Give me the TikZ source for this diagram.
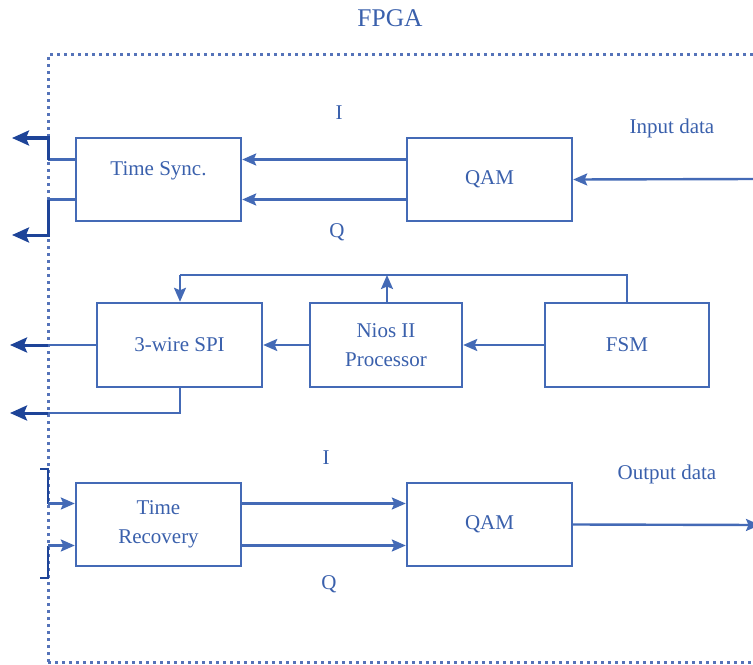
\documentclass[tikz,border=0pt]{standalone}
\usepackage{fontspec}
\setmainfont{Liberation Serif}
\usetikzlibrary{arrows.meta}
\definecolor{boxblue}{RGB}{68,106,182}
\definecolor{txtblue}{RGB}{58,96,172}
\definecolor{dotblue}{RGB}{85,115,185}
\definecolor{navyblue}{RGB}{30,68,152}
\newcommand{\lblfont}{\fontsize{21bp}{29bp}\selectfont}
\newcommand{\ttlfont}{\fontsize{25.5bp}{30bp}\selectfont}
\begin{document}
\begin{tikzpicture}[x=1bp,y=-1bp,
  blk/.style={draw=boxblue, line width=2.4bp, minimum width=165bp, minimum height=83bp,
              inner sep=0pt, text=txtblue, font=\lblfont, align=center},
  lbl/.style={text=txtblue, font=\lblfont, inner sep=0pt, anchor=base},
  conn/.style={draw=boxblue, line width=2.4bp},
  arr/.style={conn, -{Stealth[length=14bp,width=12bp,inset=2.5bp]}},
  outarr/.style={draw=navyblue, line width=3bp, -{Stealth[length=17bp,width=15bp,inset=3bp]}},
  inln/.style={draw=navyblue, line width=2.6bp},
  frame/.style={draw=dotblue, line width=3bp, dash pattern=on 3bp off 4bp}]
\useasboundingbox (0,0) rectangle (753,665);

% FPGA frame
\draw[frame] (48,662) -- (48,55) -- (780,55);
\draw[frame] (48,662) -- (780,662);
\node[text=txtblue, font=\ttlfont, inner sep=0pt, anchor=base] (fpga) at (390,27) {FPGA};

% blocks
\node[blk, text height=37bp, text depth=46bp] (tsync) at (158.5,179.5) {Time Sync.};
\node[blk] (qam1) at (489.5,179.5) {QAM};
\node[blk, minimum height=84bp] (spi) at (179.5,345) {3-wire SPI};
\node[blk, minimum width=152bp, minimum height=84bp] (nios) at (386,345) {Nios II\\Processor};
\node[blk, minimum width=164bp, minimum height=84bp] (fsm) at (627,345) {FSM};
\node[blk] (trec) at (158.5,524.5) {Time\\Recovery};
\node[blk] (qam2) at (489.5,524.5) {QAM};

% labels
\node[lbl] (itop) at (339,120) {I};
\node[lbl] (qtop) at (337,237) {Q};
\node[lbl] (ibot) at (326,464) {I};
\node[lbl] (qbot) at (329,589) {Q};
\node[lbl] (indata) at (672,134) {Input data};
\node[lbl] (outdata) at (667,479) {Output data};

% free-end coordinates
\coordinate (inp) at (756,179);
\coordinate (outp) at (760,525);
\coordinate (fbr) at (627,275);
\coordinate (fbl) at (180,275);
\coordinate (fbm) at (387,275);
\coordinate (o1c) at (48,138);
\coordinate (o1) at (12,138);
\coordinate (o2c) at (48,235);
\coordinate (o2) at (12,235);
\coordinate (o3) at (10,345);
\coordinate (o4) at (10,413);
\coordinate (i1) at (40,469);
\coordinate (i1c) at (48,469);
\coordinate (i2) at (40,578);
\coordinate (i2c) at (48,578);

% top row
\draw[arr] (inp) -- (qam1.east);
\draw[arr] ([yshift=20bp]qam1.west) -- ([yshift=20bp]tsync.east);
\draw[arr] ([yshift=-20bp]qam1.west) -- ([yshift=-20bp]tsync.east);
\draw[conn] ([yshift=20bp]tsync.west) -- ([yshift=20bp]tsync.west -| o1c);
\draw[outarr] ([yshift=20bp]tsync.west -| o1c) -- (o1c) -- (o1);
\draw[conn] ([yshift=-20bp]tsync.west) -- ([yshift=-20bp]tsync.west -| o2c);
\draw[outarr] ([yshift=-20bp]tsync.west -| o2c) -- (o2c) -- (o2);

% middle row
\draw[arr] (fsm.west) -- (nios.east);
\draw[arr] (nios.west) -- (spi.east);
\draw[conn] (fsm.north) -- (fbr) -- (fbl);
\draw[arr] (fbl) -- (fbl |- spi.north);
\draw[arr] (nios.north -| fbm) -- (fbm);
\draw[conn] (spi.west) -- (spi.west -| o1c);
\draw[outarr] (spi.west -| o1c) -- (o3);
\draw[conn] (fbl |- spi.south) -- (fbl |- o4) -- (o4 -| o1c);
\draw[outarr] (o4 -| o1c) -- (o4);

% bottom row
\draw[inln] (i1) -- (i1c) -- ([yshift=21bp]trec.west -| i1c);
\draw[arr] ([yshift=21bp]trec.west -| i1c) -- ([yshift=21bp]trec.west);
\draw[inln] (i2) -- (i2c) -- ([yshift=-21bp]trec.west -| i2c);
\draw[arr] ([yshift=-21bp]trec.west -| i2c) -- ([yshift=-21bp]trec.west);
\draw[arr] ([yshift=21bp]trec.east) -- ([yshift=21bp]qam2.west);
\draw[arr] ([yshift=-21bp]trec.east) -- ([yshift=-21bp]qam2.west);
\draw[arr] (qam2.east) -- (outp);
\end{tikzpicture}
\end{document}
